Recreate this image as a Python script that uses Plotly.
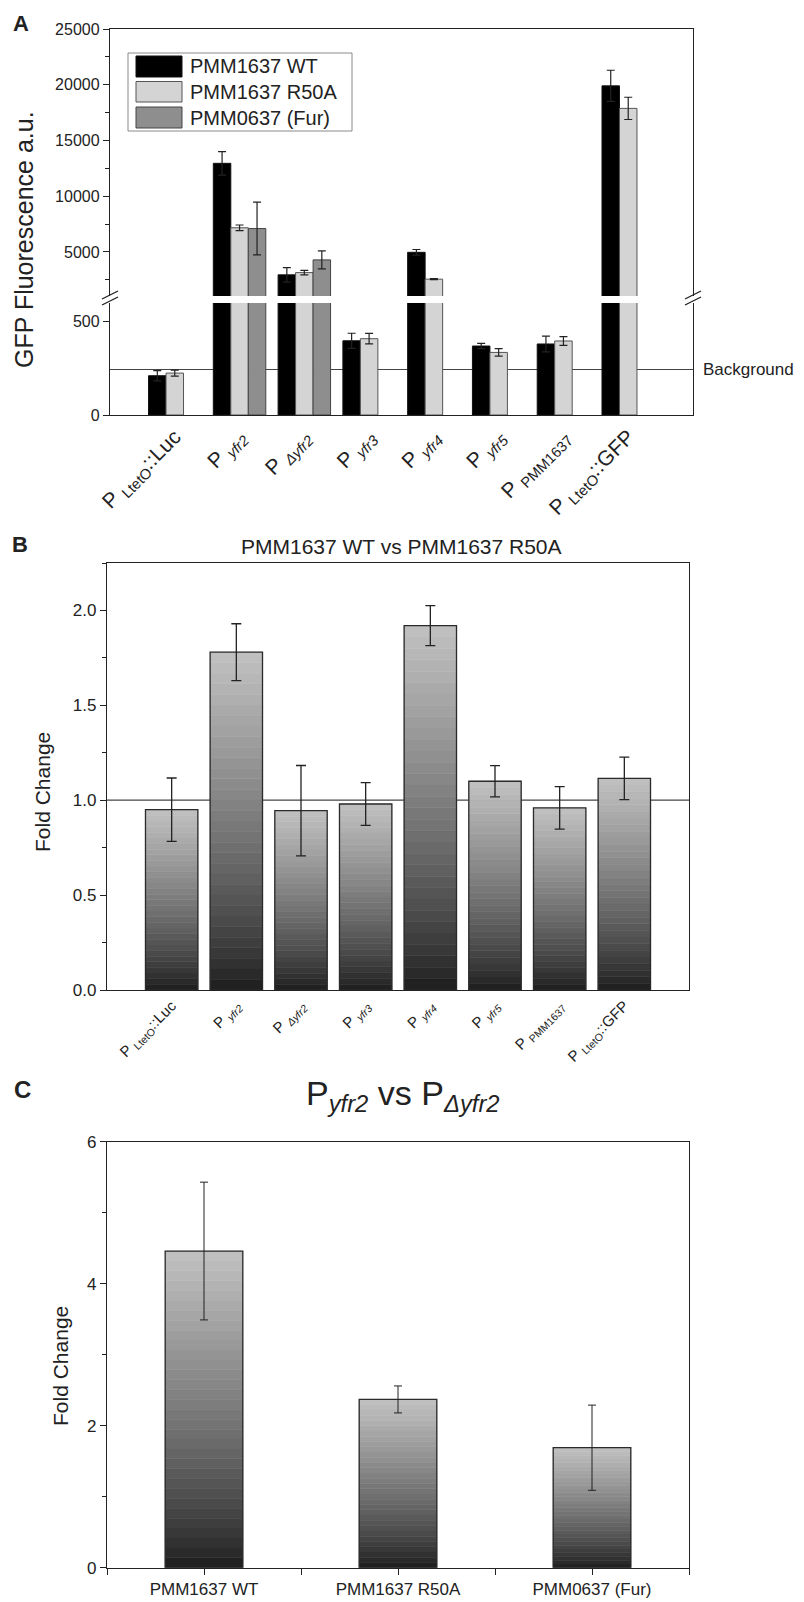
import plotly.graph_objects as go

# page body has an 8px default margin, so the figure is drawn 8px smaller
OFFX, OFFY = 8, 8
W, H = 804 - OFFX, 1602 - OFFY
FONT = "Liberation Sans, Arial, sans-serif"

# ---------------- data ----------------
promoters = ["P <sub>LtetO</sub>::Luc", "P <sub><i>yfr2</i></sub>", "P <sub><i>Δyfr2</i></sub>",
             "P <sub><i>yfr3</i></sub>", "P <sub><i>yfr4</i></sub>", "P <sub><i>yfr5</i></sub>",
             "P <sub>PMM1637</sub>", "P <sub>LtetO</sub>::GFP"]
series_names = ["PMM1637 WT", "PMM1637 R50A", "PMM0637 (Fur)"]
wt_vals = [209, 12950, 2950, 395, 4970, 367, 378, 19900]
wt_err = [27, 1050, 650, 40, 250, 14, 42, 1400]
r50a_vals = [223, 7170, 3150, 406, 2560, 333, 394, 17880]
r50a_err = [16, 250, 200, 28, 50, 20, 23, 1000]
fur_vals = [None, 7100, 4290, None, None, None, None, None]
fur_err = [None, 2370, 800, None, None, None, None, None]
background_level = 242

fold_B = [0.95, 1.78, 0.945, 0.98, 1.92, 1.10, 0.96, 1.115]
fold_B_err = [0.167, 0.15, 0.238, 0.113, 0.105, 0.082, 0.112, 0.112]

strains_C = ["PMM1637 WT", "PMM1637 R50A", "PMM0637 (Fur)"]
fold_C = [4.46, 2.37, 1.69]
fold_C_err = [0.97, 0.19, 0.60]

# ---------------- helpers (screen px -> paper) ----------------
def px(x):
    return (x - OFFX) / W

def py(y):
    return 1 - (y - OFFY) / H

series_vals = [wt_vals, r50a_vals, fur_vals]
series_err = [wt_err, r50a_err, fur_err]
series_fill = ["#000000", "#d4d4d4", "#8e8e8e"]
series_line = ["#111111", "#555555", "#444444"]
bw = 0.27
offsets = [-1.5 * bw, -0.5 * bw, 0.5 * bw]

fig = go.Figure()
xA = list(range(len(promoters)))

# Panel A: upper (x,y) and lower (x2,y2) segments of the broken axis
for xa, ya in (("x", "y"), ("x2", "y2")):
    for s in range(3):
        fig.add_trace(go.Bar(
            x=xA, y=series_vals[s], xaxis=xa, yaxis=ya,
            width=bw, offset=offsets[s],
            marker=dict(color=series_fill[s], line=dict(color=series_line[s], width=1)),
            error_y=dict(type="data", array=series_err[s], visible=True,
                         color="#222", thickness=1.2, width=4),
            showlegend=False, name=series_names[s]))

# gradient bars helper
def gradient_bars(xvals, vals, errs, xa, ya, width, N=32, cap=5, thick=1.2):
    for k in range(N):
        f = (k + 0.5) / N
        g = int(28 + 166 * f ** 0.8)
        col = f"rgb({g},{g},{g})"
        fig.add_trace(go.Bar(
            x=xvals, y=[v / N for v in vals], base=[v * k / N for v in vals],
            xaxis=xa, yaxis=ya, width=width,
            marker=dict(color=col, line=dict(color=col, width=0.6)),
            showlegend=False, hoverinfo="skip"))
    fig.add_trace(go.Bar(
        x=xvals, y=vals, xaxis=xa, yaxis=ya, width=width,
        marker=dict(color="rgba(0,0,0,0)", line=dict(color="#2a2a2a", width=1.3)),
        error_y=dict(type="data", array=errs, visible=True, color="#222",
                     thickness=thick, width=cap),
        showlegend=False))

gradient_bars(list(range(len(fold_B))), fold_B, fold_B_err, "x3", "y3", 0.81, cap=5, thick=1.3)
gradient_bars(list(range(len(fold_C))), fold_C, fold_C_err, "x4", "y4", 0.40, cap=4, thick=1.0)

axcol = "#222222"
common_line = dict(showline=True, linecolor=axcol, linewidth=1.4, showgrid=False,
                   zeroline=False, automargin=False)

fig.update_layout(
    width=W, height=H, margin=dict(l=0, r=0, t=0, b=0, autoexpand=False),
    paper_bgcolor="white", plot_bgcolor="rgba(0,0,0,0)",
    barmode="overlay", showlegend=False,
    font=dict(family=FONT, color="#222"),
    # Panel A upper
    xaxis=dict(domain=[px(110), px(693)], anchor="y", range=[-1, 8], side="top",
               ticks="", showticklabels=False, **common_line),
    yaxis=dict(domain=[py(296), py(29)], anchor="x", range=[1050, 25000],
               tickvals=[5000, 10000, 15000, 20000, 25000], tickformat="d",
               ticks="outside", ticklen=6,
               tickcolor=axcol, tickfont=dict(size=16), mirror=True,
               minor=dict(dtick=2500, tick0=0, ticks="outside", ticklen=4, tickcolor=axcol),
               **common_line),
    # Panel A lower
    xaxis2=dict(domain=[px(110), px(693)], anchor="y2", range=[-1, 8],
                tickvals=xA, ticktext=promoters, tickangle=-45, ticks="",
                tickfont=dict(size=21), **common_line),
    yaxis2=dict(domain=[py(415), py(303)], anchor="x2", range=[0, 596],
                tickvals=[0, 500], tickformat="d", ticks="outside", ticklen=6, tickcolor=axcol,
                tickfont=dict(size=16), mirror=True, **common_line),
    # Panel B
    xaxis3=dict(domain=[px(107), px(689)], anchor="y3", range=[-1, 8],
                tickvals=list(range(len(promoters))), ticktext=promoters, tickangle=-45,
                ticks="", tickfont=dict(size=15), mirror=True, **common_line),
    yaxis3=dict(domain=[py(990), py(563)], anchor="x3", range=[0, 2.25],
                tickvals=[0, 0.5, 1.0, 1.5, 2.0], tickformat=".1f", ticks="outside",
                ticklen=6, tickcolor=axcol, tickfont=dict(size=17), mirror=True,
                minor=dict(dtick=0.25, tick0=0, ticks="outside", ticklen=4, tickcolor=axcol),
                **common_line),
    # Panel C
    xaxis4=dict(domain=[px(107), px(689)], anchor="y4", range=[-0.5, 2.5],
                tickvals=list(range(len(strains_C))), ticktext=strains_C, ticks="outside",
                ticklen=6, tickcolor=axcol, tickfont=dict(size=17), mirror=True,
                minor=dict(tick0=0.5, dtick=1, ticks="outside", ticklen=6, tickcolor=axcol),
                **common_line),
    yaxis4=dict(domain=[py(1567.7), py(1141.7)], anchor="x4", range=[0, 6],
                tickvals=[0, 2, 4, 6], ticks="outside", ticklen=6, tickcolor=axcol,
                tickfont=dict(size=17), mirror=True,
                minor=dict(dtick=1, tick0=0, ticks="outside", ticklen=4, tickcolor=axcol),
                **common_line),
)

shapes = []
# background line in A (lower segment), reference line in B
shapes.append(dict(type="line", xref="x2 domain", yref="y2", x0=0, x1=1,
                   y0=background_level, y1=background_level,
                   line=dict(color="#444", width=1.2), layer="below"))
shapes.append(dict(type="line", xref="x3 domain", yref="y3", x0=0, x1=1, y0=1.0, y1=1.0,
                   line=dict(color="#444", width=1.2), layer="below"))
# axis break marks
for xc in (110, 693):
    for dy in (0, 6):
        shapes.append(dict(type="line", xref="paper", yref="paper",
                           x0=px(xc - 8), y0=py(302 + dy - 3), x1=px(xc + 8), y1=py(294 + dy - 3),
                           line=dict(color=axcol, width=1.3)))
# manual legend
shapes.append(dict(type="rect", xref="paper", yref="paper", x0=px(128), x1=px(352),
                   y0=py(131), y1=py(53), line=dict(color="#8a8a8a", width=1),
                   fillcolor="white"))
rows = [(56, 77), (81.5, 102), (107, 128)]
for s, (t, b) in enumerate(rows):
    shapes.append(dict(type="rect", xref="paper", yref="paper", x0=px(136), x1=px(182),
                       y0=py(b), y1=py(t), fillcolor=series_fill[s],
                       line=dict(color=series_line[s], width=1)))
fig.update_layout(shapes=shapes)

ann = []
for s, (t, b) in enumerate(rows):
    ann.append(dict(x=px(188), y=py((t + b) / 2), text=series_names[s], xanchor="left",
                    font=dict(size=20, color="#222")))
ann += [
    dict(x=px(21), y=py(24), text="<b>A</b>", font=dict(size=22, color="#222")),
    dict(x=px(20), y=py(544), text="<b>B</b>", font=dict(size=22, color="#222")),
    dict(x=px(22), y=py(1089), text="<b>C</b>", font=dict(size=24, color="#222")),
    dict(x=px(24), y=py(240), text="GFP Fluorescence a.u.", textangle=-90,
         font=dict(size=25, color="#222")),
    dict(x=px(701), y=py(369), text="Background", xanchor="left",
         font=dict(size=17, color="#222")),
    dict(x=px(401), y=py(546), text="PMM1637 WT vs PMM1637 R50A",
         font=dict(size=21, color="#222")),
    dict(x=px(43), y=py(792), text="Fold Change", textangle=-90,
         font=dict(size=21, color="#222")),
    dict(x=px(403), y=py(1095), text="P<sub><i>yfr2</i></sub> vs P<sub><i>Δyfr2</i></sub>",
         font=dict(size=34, color="#222")),
    dict(x=px(60), y=py(1366), text="Fold Change", textangle=-90,
         font=dict(size=21, color="#222")),
]
for a in ann:
    a.setdefault("xref", "paper")
    a.setdefault("yref", "paper")
    a.setdefault("showarrow", False)
    a.setdefault("xanchor", "center")
    a.setdefault("yanchor", "middle")
fig.update_layout(annotations=ann)

fig.write_html("out.html")
